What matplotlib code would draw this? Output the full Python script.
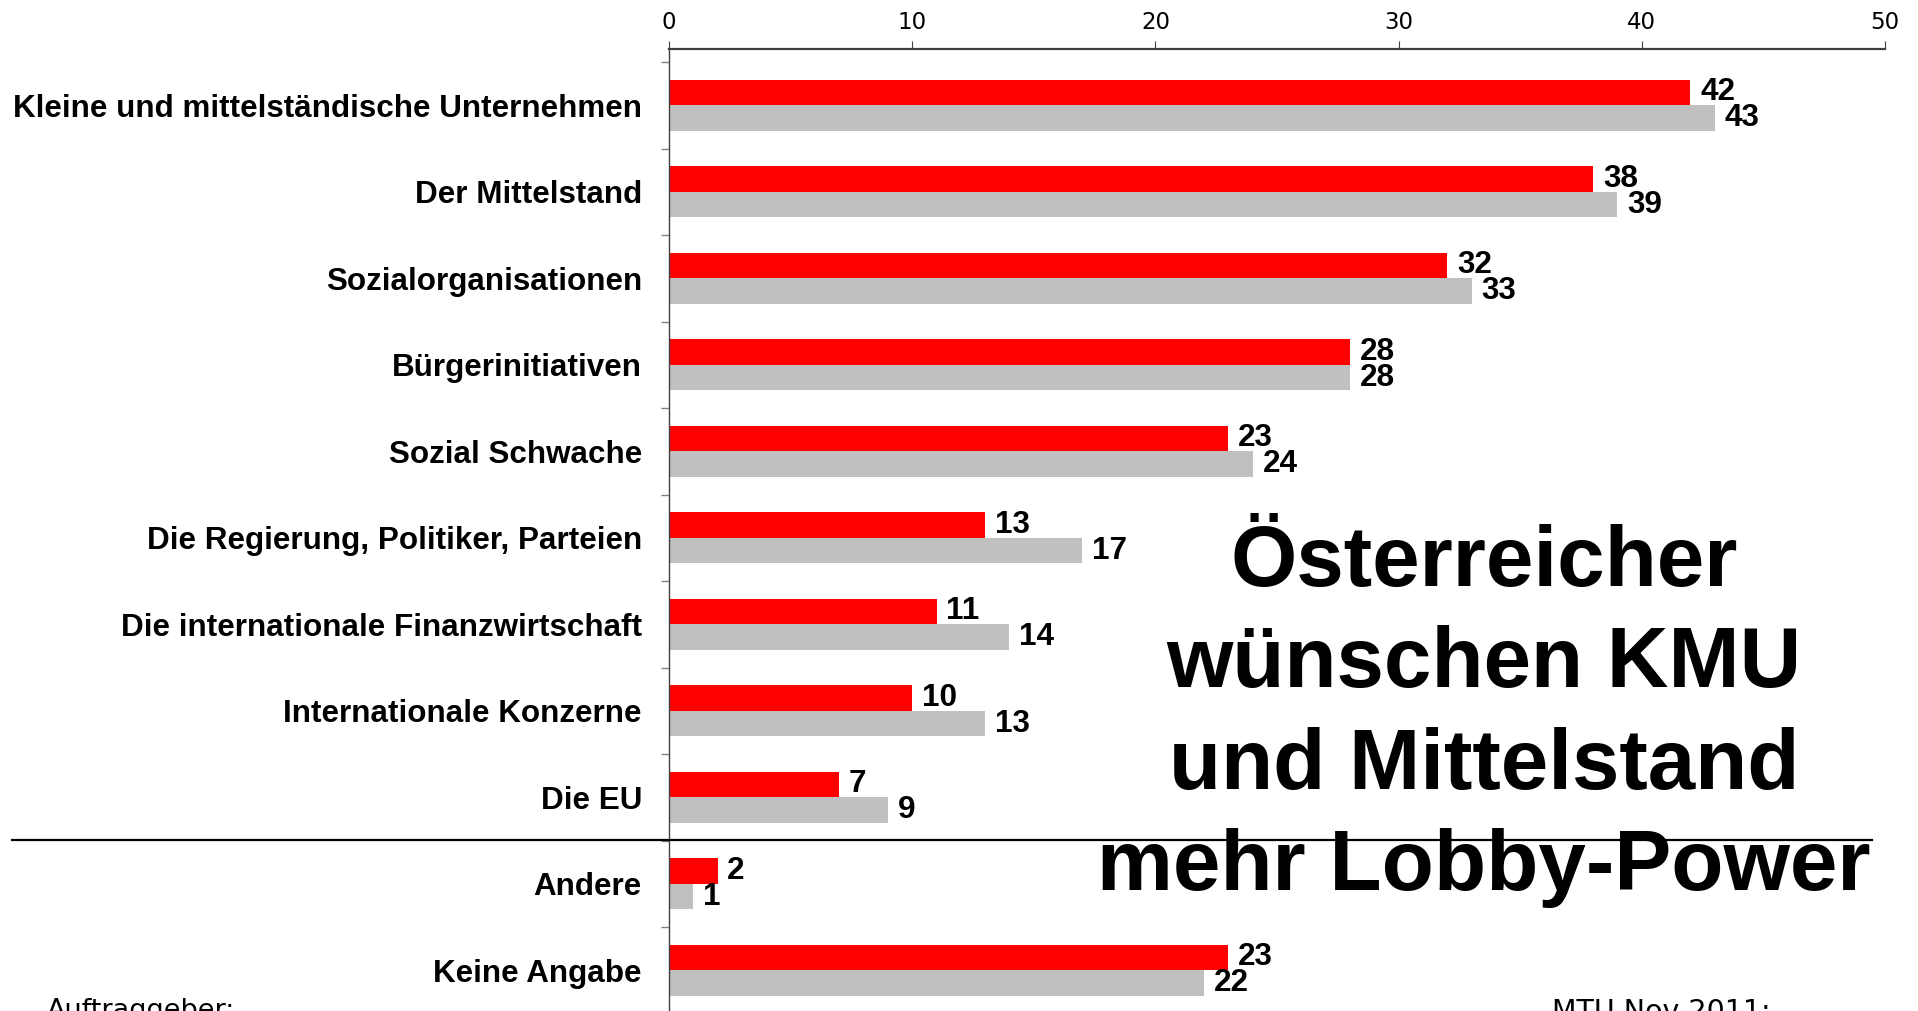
import matplotlib
matplotlib.use("Agg")
import matplotlib.pyplot as plt
from matplotlib.lines import Line2D
import numpy as np

categories = [
    "Kleine und mittelständische Unternehmen",
    "Der Mittelstand",
    "Sozialorganisationen",
    "Bürgerinitiativen",
    "Sozial Schwache",
    "Die Regierung, Politiker, Parteien",
    "Die internationale Finanzwirtschaft",
    "Internationale Konzerne",
    "Die EU",
    "Andere",
    "Keine Angabe",
]
series_red = [42, 38, 32, 28, 23, 13, 11, 10, 7, 2, 23]
series_gray = [43, 39, 33, 28, 24, 17, 14, 13, 9, 1, 22]
x_ticks = [0, 10, 20, 30, 40, 50]
title_lines = "Österreicher\nwünschen KMU\nund Mittelstand\nmehr Lobby-Power"

W, H = 1918, 1011
DPI = 100
fig = plt.figure(figsize=(W / DPI, H / DPI), dpi=DPI)
fig.patch.set_facecolor("white")

BOLD = ["Liberation Sans", "DejaVu Sans"]

# axes geometry (pixels)
x0_px, x50_px = 669, 1885
top_px = 49
first_boundary_px = 62
spacing_px = 86.5
ax = fig.add_axes([x0_px / W, 0, (x50_px - x0_px) / W, 1 - top_px / H])
ax.set_facecolor("none")

n = len(categories)
ypos = np.arange(n)
bh = 0.297
ax.barh(ypos - bh / 2, series_red, height=bh, color="#FF0000", zorder=2)
ax.barh(ypos + bh / 2, series_gray, height=bh, color="#C0C0C0", zorder=2)

top_idx = -0.5 - (first_boundary_px - top_px) / spacing_px
bottom_idx = top_idx + (H - top_px) / spacing_px
ax.set_ylim(bottom_idx, top_idx)
ax.set_xlim(0, 50)

for i in range(n):
    ax.annotate(str(series_red[i]), (series_red[i], ypos[i] - bh / 2),
                xytext=(7, 0), textcoords="offset points", va="center", ha="left",
                fontsize=22.7, fontweight="bold", family=BOLD, zorder=5)
    ax.annotate(str(series_gray[i]), (series_gray[i], ypos[i] + bh / 2),
                xytext=(7, 0), textcoords="offset points", va="center", ha="left",
                fontsize=22.7, fontweight="bold", family=BOLD, zorder=5)

# x axis on top
ax.xaxis.tick_top()
ax.set_xticks(x_ticks)
ax.set_xticklabels([str(t) for t in x_ticks], fontsize=16.5, family=["DejaVu Sans"])
ax.tick_params(axis="x", direction="out", length=6, width=0.8, color="#404040", pad=5)

# y axis: category labels at centers, tick marks at boundaries
ax.set_yticks(ypos)
ax.set_yticklabels(categories, fontsize=22.6, fontweight="bold", family=BOLD)
ax.tick_params(axis="y", which="major", length=0, pad=19.5)
ax.set_yticks(np.arange(n) - 0.5, minor=True)
ax.tick_params(axis="y", which="minor", length=6, width=1, color="#808080", direction="out")

for s in ["right", "bottom"]:
    ax.spines[s].set_visible(False)
ax.spines["top"].set_color("#404040")
ax.spines["top"].set_linewidth(1.6)
ax.spines["left"].set_color("#404040")
ax.spines["left"].set_linewidth(1.0)

# separator line between "Die EU" and "Andere"
sep_y = 1 - 840 / H
fig.add_artist(Line2D([12 / W, 1872 / W], [sep_y, sep_y], color="black", lw=1.6, zorder=3))

# big title
fig.text(1484 / W, 1 - 716 / H, title_lines, ha="center", va="center",
         fontsize=61.5, fontweight="bold", family=BOLD, linespacing=1.34, zorder=6)

# footer texts (cut off)
fig.text(47 / W, 1 - 998 / H, "Auftraggeber:", ha="left", va="top", fontsize=19.5,
         family=["DejaVu Sans"])
fig.text(1552 / W, 1 - 998 / H, "MTU Nov 2011:", ha="left", va="top", fontsize=20.5,
         family=["DejaVu Sans"])

fig.savefig("out.png", dpi=DPI, facecolor="white")
